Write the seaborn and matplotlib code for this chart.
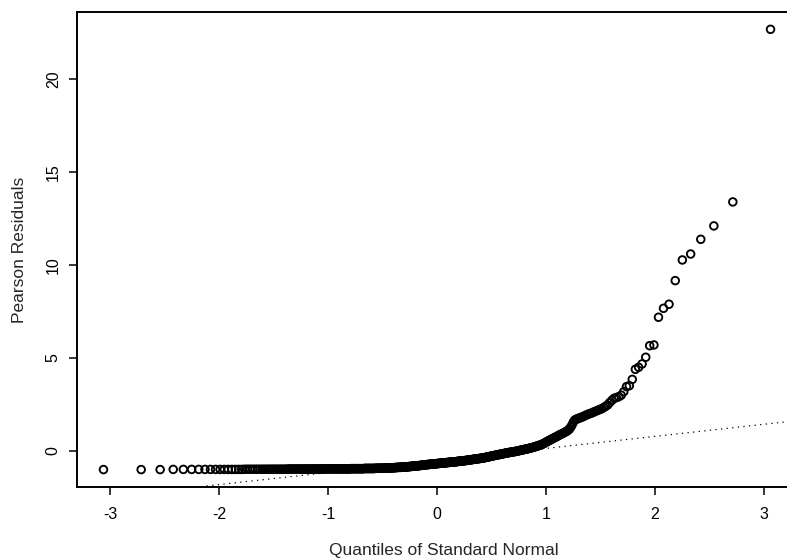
import statistics

import matplotlib
matplotlib.use("Agg")
import matplotlib.pyplot as plt
import numpy as np
import pandas as pd
import seaborn as sns

# Sorted Pearson residuals of the fitted model (450 observations)
residuals_sorted = [
    -1.00, -1.00, -1.00, -0.99, -0.99, -0.99, -0.99, -0.99, -0.99, -0.99, -0.99, -0.99, -0.99, -0.99, -0.99,
    -0.99, -0.99, -0.98, -0.98, -0.98, -0.98, -0.98, -0.98, -0.98, -0.98, -0.98, -0.98, -0.98, -0.98, -0.98,
    -0.98, -0.98, -0.98, -0.98, -0.98, -0.98, -0.98, -0.98, -0.97, -0.97, -0.97, -0.97, -0.97, -0.97, -0.97,
    -0.97, -0.97, -0.97, -0.97, -0.97, -0.97, -0.97, -0.97, -0.97, -0.97, -0.97, -0.97, -0.97, -0.97, -0.97,
    -0.97, -0.97, -0.97, -0.97, -0.97, -0.97, -0.97, -0.97, -0.96, -0.96, -0.96, -0.96, -0.96, -0.96, -0.96,
    -0.96, -0.96, -0.96, -0.96, -0.96, -0.96, -0.96, -0.96, -0.96, -0.96, -0.96, -0.96, -0.96, -0.96, -0.96,
    -0.96, -0.96, -0.96, -0.96, -0.96, -0.96, -0.95, -0.95, -0.95, -0.95, -0.95, -0.95, -0.95, -0.95, -0.95,
    -0.95, -0.95, -0.95, -0.95, -0.95, -0.95, -0.95, -0.95, -0.94, -0.94, -0.94, -0.94, -0.94, -0.94, -0.94,
    -0.94, -0.94, -0.94, -0.94, -0.94, -0.94, -0.94, -0.94, -0.93, -0.93, -0.93, -0.93, -0.93, -0.93, -0.93,
    -0.93, -0.93, -0.93, -0.93, -0.92, -0.92, -0.92, -0.92, -0.92, -0.92, -0.92, -0.91, -0.91, -0.91, -0.91,
    -0.91, -0.91, -0.90, -0.90, -0.90, -0.90, -0.90, -0.89, -0.89, -0.89, -0.89, -0.88, -0.88, -0.88, -0.88,
    -0.88, -0.88, -0.87, -0.87, -0.87, -0.87, -0.86, -0.86, -0.86, -0.85, -0.85, -0.85, -0.85, -0.84, -0.84,
    -0.84, -0.83, -0.83, -0.83, -0.82, -0.82, -0.82, -0.81, -0.81, -0.81, -0.80, -0.80, -0.80, -0.79, -0.79,
    -0.79, -0.78, -0.78, -0.77, -0.77, -0.77, -0.76, -0.76, -0.75, -0.75, -0.75, -0.74, -0.74, -0.73, -0.73,
    -0.73, -0.72, -0.72, -0.72, -0.71, -0.71, -0.71, -0.70, -0.70, -0.70, -0.69, -0.69, -0.69, -0.68, -0.68,
    -0.68, -0.67, -0.67, -0.67, -0.66, -0.66, -0.66, -0.65, -0.65, -0.65, -0.64, -0.64, -0.64, -0.63, -0.63,
    -0.63, -0.62, -0.62, -0.62, -0.61, -0.61, -0.61, -0.60, -0.60, -0.60, -0.59, -0.59, -0.59, -0.58, -0.58,
    -0.58, -0.57, -0.57, -0.56, -0.56, -0.56, -0.55, -0.55, -0.54, -0.54, -0.54, -0.53, -0.53, -0.52, -0.52,
    -0.52, -0.51, -0.51, -0.50, -0.50, -0.49, -0.49, -0.48, -0.48, -0.47, -0.47, -0.46, -0.46, -0.45, -0.45,
    -0.44, -0.44, -0.43, -0.43, -0.42, -0.42, -0.41, -0.41, -0.40, -0.40, -0.39, -0.39, -0.38, -0.38, -0.37,
    -0.36, -0.35, -0.35, -0.34, -0.33, -0.32, -0.31, -0.31, -0.30, -0.29, -0.28, -0.27, -0.27, -0.26, -0.25,
    -0.24, -0.23, -0.23, -0.22, -0.21, -0.20, -0.19, -0.19, -0.18, -0.17, -0.16, -0.15, -0.15, -0.14, -0.13,
    -0.12, -0.11, -0.11, -0.10, -0.09, -0.08, -0.08, -0.07, -0.06, -0.05, -0.05, -0.04, -0.03, -0.03, -0.02,
    -0.01, 0.00, 0.01, 0.02, 0.03, 0.04, 0.05, 0.06, 0.07, 0.08, 0.09, 0.10, 0.11, 0.12, 0.13,
    0.14, 0.16, 0.17, 0.18, 0.19, 0.20, 0.22, 0.24, 0.25, 0.27, 0.28, 0.30, 0.32, 0.34, 0.36,
    0.38, 0.41, 0.44, 0.47, 0.50, 0.53, 0.56, 0.59, 0.62, 0.65, 0.68, 0.71, 0.74, 0.77, 0.80,
    0.84, 0.87, 0.90, 0.93, 0.96, 1.00, 1.03, 1.07, 1.12, 1.18, 1.28, 1.40, 1.55, 1.66, 1.70,
    1.73, 1.76, 1.79, 1.82, 1.85, 1.89, 1.93, 1.97, 2.00, 2.03, 2.07, 2.11, 2.15, 2.19, 2.23,
    2.27, 2.33, 2.40, 2.47, 2.60, 2.72, 2.83, 2.87, 2.92, 3.00, 3.19, 3.46, 3.51, 3.85, 4.39,
    4.50, 4.68, 5.04, 5.66, 5.70, 7.19, 7.67, 7.89, 9.16, 10.27, 10.59, 11.38, 12.10, 13.39, 22.67,
]

x_ticks = [-3, -2, -1, 0, 1, 2, 3]
y_ticks = [0, 5, 10, 15, 20]
x_label = "Quantiles of Standard Normal"
y_label = "Pearson Residuals"

# Theoretical normal quantiles at the plotting positions (i - 1/2) / n
normal = statistics.NormalDist()
n = len(residuals_sorted)
probs = [(i + 0.5) / n for i in range(n)]
theoretical = [normal.inv_cdf(p) for p in probs]
df = pd.DataFrame({"theoretical": theoretical, "residual": residuals_sorted})

sns.set_style("ticks")
plt.rcParams["font.family"] = ["Liberation Sans", "DejaVu Sans"]
plt.rcParams["axes.linewidth"] = 1.4

W, H = 787, 559
fig = plt.figure(figsize=(W / 100, H / 100), dpi=100)
fig.patch.set_facecolor("white")

# Plot region in pixels: x from 77 to 797 (right edge runs past the canvas), y from 12 to 487
left_px, right_px, top_px, bottom_px = 76.8, 797.2, 11.7, 487.2
ax = fig.add_axes([left_px / W, 1 - bottom_px / H,
                   (right_px - left_px) / W, (bottom_px - top_px) / H])

# Axis ranges padded by 4% of the data range on each side
def padded(lo, hi, frac=0.04):
    span = hi - lo
    return lo - frac * span, hi + frac * span

xmin, xmax = padded(min(theoretical), max(theoretical))
ymin, ymax = padded(min(residuals_sorted), max(residuals_sorted))

sns.scatterplot(data=df, x="theoretical", y="residual", ax=ax,
                marker="o", s=30, facecolor="none", edgecolor="black",
                linewidth=1.35, legend=False, zorder=3)

# Reference line through the first and third quartiles
y1, y3 = np.quantile(residuals_sorted, [0.25, 0.75])
x1, x3 = normal.inv_cdf(0.25), normal.inv_cdf(0.75)
slope = (y3 - y1) / (x3 - x1)
ax.axline((x1, y1), slope=slope, color="black", linewidth=0.9,
          linestyle=(0, (1, 3.5)), zorder=2)

ax.set_xlim(xmin, xmax)
ax.set_ylim(ymin, ymax)
ax.set_xticks(x_ticks)
ax.set_yticks(y_ticks)
ax.set_xticklabels([str(t) for t in x_ticks])
ax.set_yticklabels([str(t) for t in y_ticks], rotation=90, va="center")
ax.tick_params(axis="both", direction="out", length=5.5, width=1.1,
               labelsize=11.5, colors="black")
ax.tick_params(axis="x", pad=9)
ax.tick_params(axis="y", pad=6)
ax.set_xlabel("")
ax.set_ylabel("")
for side in ["left", "right", "top", "bottom"]:
    ax.spines[side].set_visible(True)
    ax.spines[side].set_color("black")
ax.grid(False)

fig.text(444 / W, 1 - 550 / H, x_label, ha="center", va="center", fontsize=12.5)
fig.text(20 / W, 1 - 250 / H, y_label, ha="center", va="center",
         rotation=90, fontsize=12.5)

fig.savefig("out.png", dpi=100)
